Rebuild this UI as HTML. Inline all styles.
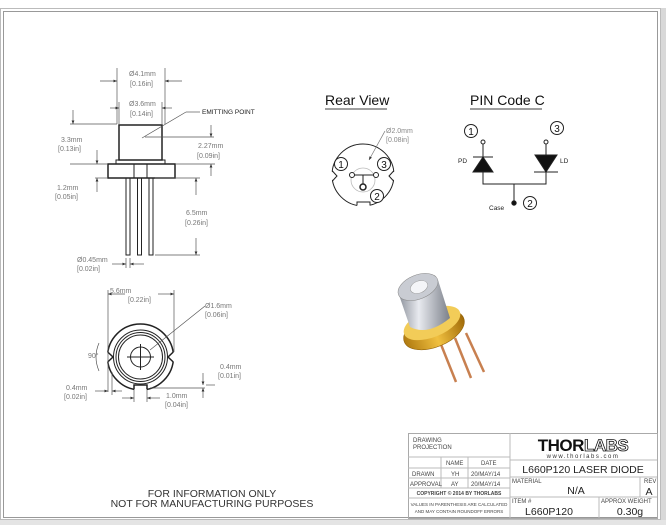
<!DOCTYPE html>
<html><head><meta charset="utf-8"><style>
html,body{margin:0;padding:0;background:#fff;}
svg{display:block;font-family:"Liberation Sans",sans-serif;}
</style></head><body>
<svg width="666" height="525" viewBox="0 0 666 525" xmlns="http://www.w3.org/2000/svg">
<defs>
<marker id="a" markerWidth="6" markerHeight="6" refX="5" refY="3" orient="auto"><path d="M0,1 L5,3 L0,5 Z" fill="#333"/></marker>
<linearGradient id="cyl" x1="0" x2="1"><stop offset="0" stop-color="#8a8f99"/><stop offset="0.4" stop-color="#e8eaef"/><stop offset="1" stop-color="#7b808a"/></linearGradient>
<linearGradient id="gold" x1="0" x2="1"><stop offset="0" stop-color="#b07a10"/><stop offset="0.5" stop-color="#f0c040"/><stop offset="1" stop-color="#a06a08"/></linearGradient>
</defs>
<rect x="0" y="0" width="666" height="525" fill="#fff"/>
<rect x="661" y="8" width="5" height="515" fill="#d8d8d8"/>
<rect x="0" y="520" width="666" height="5" fill="#e4e4e4"/>
<rect x="0.5" y="8.5" width="660" height="511" fill="none" stroke="#bbb"/>
<rect x="3.5" y="11.5" width="654" height="506" fill="none" stroke="#999"/>

<g stroke="#222" fill="none" stroke-width="1">
<rect x="119" y="125" width="43" height="35" stroke-width="1.5"/>
<rect x="116" y="160" width="49" height="4"/>
<rect x="108" y="164" width="67" height="14" stroke-width="1.5"/>
<rect x="134" y="164" width="13" height="14"/>
<rect x="126" y="178" width="4" height="77"/>
<rect x="137.5" y="178" width="4" height="77"/>
<rect x="149" y="178" width="4" height="77"/>
<g stroke="#555" stroke-width="0.7">
<line x1="117" y1="68" x2="117" y2="124"/><line x1="165" y1="68" x2="165" y2="124"/>
<line x1="100" y1="81" x2="117" y2="81" marker-end="url(#a)"/><line x1="182" y1="81" x2="165" y2="81" marker-end="url(#a)"/>
<line x1="119" y1="102" x2="119" y2="124"/><line x1="162" y1="102" x2="162" y2="124"/>
<line x1="110" y1="108" x2="119" y2="108" marker-end="url(#a)"/><line x1="172" y1="108" x2="162" y2="108" marker-end="url(#a)"/>
<line x1="142" y1="138" x2="186" y2="112"/><line x1="186" y1="112" x2="200" y2="112"/>
<line x1="70" y1="124" x2="117" y2="124"/><line x1="73" y1="110" x2="73" y2="124" marker-end="url(#a)"/>
<line x1="70" y1="164" x2="108" y2="164"/>
<line x1="97" y1="150" x2="97" y2="164" marker-end="url(#a)"/>
<line x1="95" y1="178" x2="108" y2="178"/><line x1="97" y1="192" x2="97" y2="178" marker-end="url(#a)"/>
<line x1="145" y1="137" x2="214" y2="137"/><line x1="175" y1="164" x2="215" y2="164"/>
<line x1="211" y1="125" x2="211" y2="137" marker-end="url(#a)"/><line x1="211" y1="176" x2="211" y2="164" marker-end="url(#a)"/>
<line x1="155" y1="178" x2="200" y2="178"/><line x1="155" y1="255" x2="200" y2="255"/>
<line x1="196" y1="195" x2="196" y2="178" marker-end="url(#a)"/><line x1="196" y1="238" x2="196" y2="255" marker-end="url(#a)"/>
<line x1="126" y1="258" x2="126" y2="268"/><line x1="130" y1="258" x2="130" y2="268"/>
<line x1="112" y1="264" x2="126" y2="264" marker-end="url(#a)"/><line x1="144" y1="264" x2="130" y2="264" marker-end="url(#a)"/>
</g>
<!-- bottom view -->
<circle cx="140.5" cy="357" r="33" stroke-width="1.5"/>
<path d="M106,351 L113,357 L106,363 Z M175,351 L168,357 L175,363 Z" fill="#fff" stroke="none"/>
<polyline points="107.7,352 113,357 107.7,362" stroke-width="1.5"/>
<polyline points="173.3,352 168,357 173.3,362" stroke-width="1.5"/>
<rect x="134" y="384" width="13" height="8" fill="#fff" stroke="none"/>
<polyline points="134,389.5 134,385 147,385 147,389.5" stroke-width="1.5"/>
<circle cx="140.5" cy="357" r="27"/><circle cx="140.5" cy="357" r="24.5"/><circle cx="140.5" cy="357" r="22"/>
<circle cx="140.5" cy="357" r="10"/>
<line x1="127" y1="357" x2="154" y2="357"/><line x1="140.5" y1="344" x2="140.5" y2="370"/>
<g stroke="#555" stroke-width="0.7">
<line x1="108" y1="290" x2="108" y2="392"/><line x1="174" y1="290" x2="174" y2="352"/>
<line x1="125" y1="294" x2="108" y2="294" marker-end="url(#a)"/><line x1="158" y1="294" x2="174" y2="294" marker-end="url(#a)"/>
<line x1="150" y1="350" x2="205" y2="306"/>
<path d="M99,343 Q93,357 99,371"/>
<line x1="206" y1="385" x2="215" y2="385"/>
<line x1="203" y1="373" x2="203" y2="385" marker-end="url(#a)"/><line x1="203" y1="398" x2="203" y2="388" marker-end="url(#a)"/>
<line x1="150" y1="388" x2="205" y2="388"/>
<line x1="95" y1="391" x2="108" y2="391" marker-end="url(#a)"/><line x1="122" y1="391" x2="112" y2="391" marker-end="url(#a)"/>
<line x1="112" y1="372" x2="112" y2="395"/>
<line x1="134" y1="390" x2="134" y2="402"/><line x1="147" y1="390" x2="147" y2="402"/>
<line x1="122" y1="398" x2="134" y2="398" marker-end="url(#a)"/><line x1="160" y1="398" x2="147" y2="398" marker-end="url(#a)"/>
</g>
<!-- rear view -->
<circle cx="363" cy="175" r="31"/>
<path d="M330,170 L337,176 L330,182 Z M396,170 L389,176 L396,182 Z" fill="#fff" stroke="none"/>
<polyline points="332.4,171 337,176 332.4,181"/>
<polyline points="393.6,171 389,176 393.6,181"/>
<rect x="357" y="200" width="13" height="8" fill="#fff" stroke="none"/>
<polyline points="357,205.5 357,202 370,202 370,205.5"/>
<circle cx="363" cy="180" r="12" stroke="#bbb" stroke-width="0.8"/>
<line x1="352" y1="175" x2="376" y2="175"/><line x1="363" y1="175" x2="363" y2="186"/>
<circle cx="352" cy="175" r="2.5" fill="#fff"/><circle cx="376" cy="175" r="2.5" fill="#fff"/><circle cx="363" cy="187" r="3" fill="#fff" stroke-width="1.5"/>
<circle cx="341" cy="164" r="6.5" fill="#fff"/><circle cx="384" cy="164" r="6.5" fill="#fff"/><circle cx="377" cy="196" r="6.5" fill="#fff"/>
<path d="M385,131 L369,160" stroke="#777" stroke-width="0.7" marker-end="url(#a)"/>
<!-- pin code -->
<circle cx="471" cy="131" r="6.5"/><circle cx="557" cy="128" r="6.5"/><circle cx="530" cy="203" r="6.5"/>
<circle cx="483" cy="142" r="2"/><circle cx="546" cy="142" r="2"/>
<line x1="483" y1="144" x2="483" y2="157"/><line x1="546" y1="144" x2="546" y2="155"/>
<line x1="473" y1="157" x2="493" y2="157"/>
<path d="M483,157 L473,172 L493,172 Z" fill="#111"/>
<path d="M535,155 L557,155 L546,172 Z" fill="#111"/>
<line x1="534" y1="172" x2="558" y2="172"/>
<polyline points="483,172 483,184 546,184 546,172"/>
<line x1="514" y1="184" x2="514" y2="202"/>
<circle cx="514" cy="203" r="2.2" fill="#111"/>
<!-- title block -->
<rect x="408.5" y="433.5" width="249" height="85" stroke="#aaa"/>
<g stroke="#bbb">
<line x1="510" y1="433" x2="510" y2="518"/>
<line x1="408" y1="457" x2="510" y2="457"/><line x1="408" y1="468" x2="510" y2="468"/>
<line x1="408" y1="478" x2="510" y2="478"/><line x1="408" y1="488" x2="510" y2="488"/>
<line x1="408" y1="498" x2="510" y2="498"/>
<line x1="441" y1="457" x2="441" y2="488"/><line x1="468" y1="457" x2="468" y2="488"/>
<line x1="510" y1="460" x2="657" y2="460"/><line x1="510" y1="477" x2="657" y2="477"/>
<line x1="510" y1="497" x2="657" y2="497"/>
<line x1="640" y1="477" x2="640" y2="497"/><line x1="599" y1="497" x2="599" y2="518"/>
</g>
</g>

<!-- 3D laser -->
<g>
<line x1="440" y1="342" x2="456" y2="382" stroke="#c88050" stroke-width="2.5"/>
<line x1="455" y1="338" x2="471" y2="378" stroke="#c88050" stroke-width="2.5"/>
<line x1="466" y1="333" x2="484" y2="372" stroke="#c88050" stroke-width="2.5"/>
<ellipse cx="434" cy="330" rx="32" ry="17" transform="rotate(-22 434 330)" fill="url(#gold)" stroke="#8a5a00" stroke-width="0.5"/>
<ellipse cx="432" cy="323" rx="30" ry="14" transform="rotate(-22 432 323)" fill="#f2cc58"/>
<path d="M398,292 L410,327 Q428,336 450,318 L438,280 Z" fill="url(#cyl)"/>
<ellipse cx="418" cy="287" rx="21" ry="12" transform="rotate(-22 418 287)" fill="#c9ccd3" stroke="#888" stroke-width="0.5"/>
<ellipse cx="419" cy="287" rx="9" ry="6" transform="rotate(-22 419 287)" fill="#f4f5f8" stroke="#999" stroke-width="0.5"/>
</g>

<g fill="#555" font-size="7">
<text x="129" y="76" fill="#777">Ø4.1mm</text><text x="130" y="86" fill="#777">[0.16in]</text>
<text x="129" y="106" fill="#777">Ø3.6mm</text><text x="130" y="116" fill="#777">[0.14in]</text>
<text x="202" y="114" fill="#222" font-size="6.5">EMITTING POINT</text>
<text x="61" y="142" fill="#777">3.3mm</text><text x="58" y="151" fill="#777">[0.13in]</text>
<text x="57" y="190" fill="#777">1.2mm</text><text x="55" y="199" fill="#777">[0.05in]</text>
<text x="198" y="148" fill="#777">2.27mm</text><text x="197" y="158" fill="#777">[0.09in]</text>
<text x="186" y="215" fill="#777">6.5mm</text><text x="185" y="225" fill="#777">[0.26in]</text>
<text x="77" y="262" fill="#777">Ø0.45mm</text><text x="77" y="271" fill="#777">[0.02in]</text>
<text x="110" y="293" fill="#777">5.6mm</text><text x="128" y="302" fill="#777">[0.22in]</text>
<text x="205" y="308" fill="#777">Ø1.6mm</text><text x="205" y="317" fill="#777">[0.06in]</text>
<text x="88" y="358" fill="#777">90°</text>
<text x="220" y="369" fill="#777">0.4mm</text><text x="218" y="378" fill="#777">[0.01in]</text>
<text x="66" y="390" fill="#777">0.4mm</text><text x="64" y="399" fill="#777">[0.02in]</text>
<text x="166" y="398" fill="#777">1.0mm</text><text x="165" y="407" fill="#777">[0.04in]</text>
<text x="386" y="133" fill="#888">Ø2.0mm</text><text x="386" y="142" fill="#888">[0.08in]</text>
</g>
<g font-size="14" fill="#111">
<text x="325" y="105">Rear View</text><line x1="325" y1="109" x2="387" y2="109" stroke="#666" stroke-width="1.2"/>
<text x="470" y="105">PIN Code C</text><line x1="470" y1="109" x2="542" y2="109" stroke="#666" stroke-width="1.2"/>
</g>
<g font-size="10" fill="#111" text-anchor="middle">
<text x="341" y="168">1</text><text x="384" y="168">3</text><text x="377" y="200">2</text>
<text x="471" y="135">1</text><text x="557" y="132">3</text><text x="530" y="207">2</text>
</g>
<g font-size="6.5" fill="#222">
<text x="458" y="163">PD</text><text x="560" y="163">LD</text><text x="489" y="210">Case</text>
</g>
<g font-size="10.5" fill="#333" text-anchor="middle">
<text x="212" y="497">FOR INFORMATION ONLY</text>
<text x="212" y="507">NOT FOR MANUFACTURING PURPOSES</text>
</g>
<g font-size="6" fill="#444">
<text x="413" y="442">DRAWING</text><text x="413" y="449">PROJECTION</text>
<text x="446" y="465">NAME</text><text x="481" y="465">DATE</text>
<text x="412" y="476">DRAWN</text><text x="451" y="476">YH</text><text x="471" y="476">20/MAY/14</text>
<text x="410" y="486">APPROVAL</text><text x="451" y="486">AY</text><text x="471" y="486">20/MAY/14</text>
<text x="459" y="495" text-anchor="middle" font-size="5" font-weight="bold">COPYRIGHT © 2014 BY THORLABS</text>
<text x="459" y="506" text-anchor="middle" font-size="4.5">VALUES IN PARENTHESIS ARE CALCULATED</text>
<text x="459" y="513" text-anchor="middle" font-size="4.5">AND MAY CONTAIN ROUNDOFF ERRORS</text>
<text x="512" y="483">MATERIAL</text><text x="644" y="483">REV</text>
<text x="512" y="503">ITEM #</text><text x="601" y="503">APPROX WEIGHT</text>
</g>
<text x="583" y="451" font-size="17" font-weight="bold" fill="#111" text-anchor="middle" letter-spacing="-0.5">THOR<tspan fill="#fff" stroke="#111" stroke-width="0.8">LABS</tspan></text>
<text x="583" y="458" font-size="6" fill="#333" text-anchor="middle" letter-spacing="1.5">www.thorlabs.com</text>
<g font-size="10.5" fill="#222" text-anchor="middle">
<text x="583" y="473">L660P120 LASER DIODE</text>
<text x="576" y="494">N/A</text><text x="649" y="495">A</text>
<text x="549" y="515">L660P120</text><text x="630" y="515">0.30g</text>
</g>
</svg>
</body></html>
